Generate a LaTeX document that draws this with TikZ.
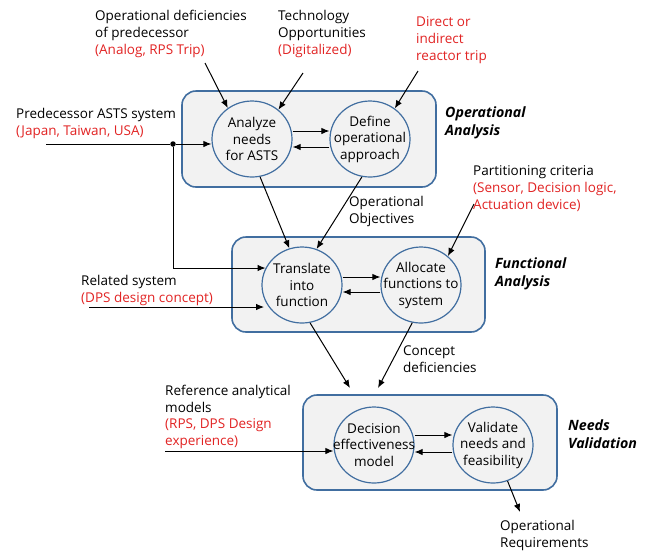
\documentclass[tikz,border=0pt]{standalone}
\usepackage{fontspec}
\setmainfont{Open Sans}
\usetikzlibrary{arrows.meta,shapes.geometric,calc}
\definecolor{frame}{RGB}{65,110,160}
\definecolor{panel}{RGB}{242,242,242}
\definecolor{note}{RGB}{225,35,35}
\begin{document}
\begin{tikzpicture}[x=1pt,y=-1pt,
  font=\fontsize{13.5}{17}\selectfont,
  panelbox/.style={draw=frame, fill=panel, line width=1.6pt, rounded corners=14pt, inner sep=0pt},
  ring/.style={ellipse, draw=frame, fill=panel, line width=1.2pt,
    minimum width=80pt, minimum height=76pt, inner sep=0pt},
  ctext/.style={align=center, inner sep=0pt, font=\fontsize{13.5}{16.5}\selectfont},
  lbl/.style={anchor=west, align=left, inner sep=0pt},
  stage/.style={lbl, font=\fontsize{14.2}{18}\selectfont\bfseries\itshape},
  arr/.style={-{Latex[length=8pt,width=6.5pt]}, line width=1pt},
  link/.style={line width=1pt}]
\useasboundingbox (0,0) rectangle (645,550);

% process stages
\node[panelbox, minimum width=254pt, minimum height=96pt] (opa) at (309,139) {};
\node[panelbox, minimum width=253pt, minimum height=95pt] (fna) at (358.5,284.5) {};
\node[panelbox, minimum width=254pt, minimum height=95pt] (nva) at (430,442.5) {};

\node[stage] (opalbl) at (445,123) {Operational\\Analysis};
\node[stage] (fnalbl) at (495,274) {Functional\\Analysis};
\node[stage] (nvalbl) at (568,434) {Needs\\Validation};

% activities
\node[ring] (c1) at (252,139) {};
\node[ring] (c2) at (370,139) {};
\node[ring] (c3) at (302,285) {};
\node[ring] (c4) at (421,285) {};
\node[ring] (c5) at (374,445) {};
\node[ring] (c6) at (493,445) {};

\node[ctext] (c1t) at (c1) {Analyze\\needs\\for ASTS};
\node[ctext] (c2t) at (c2) {Define\\operational\\approach};
\node[ctext] (c3t) at (c3) {Translate\\into\\function};
\node[ctext] (c4t) at (c4) {Allocate\\functions to\\system};
\node[ctext] (c5t) at (c5) {Decision\\effectiveness\\model};
\node[ctext] (c6t) at (c6) {Validate\\needs and\\feasibility};

% inputs
\node[lbl] (defic) at (95,33.5) {Operational deficiencies\\of predecessor\\\textcolor{note}{(Analog, RPS Trip)}};
\node[lbl] (techno) at (278,33.5) {Technology\\Opportunities\\\textcolor{note}{(Digitalized)}};
\node[lbl, text=note] (trip) at (416,40.5) {Direct or\\indirect\\reactor trip};
\node[lbl] (pred) at (16,123) {Predecessor ASTS system\\\textcolor{note}{(Japan, Taiwan, USA)}};
\node[lbl] (part) at (473,189) {Partitioning criteria\\\textcolor{note}{(Sensor, Decision logic,}\\\textcolor{note}{Actuation device)}};
\node[lbl] (rel) at (81,290.5) {Related system\\\textcolor{note}{(DPS design concept)}};
\node[lbl, font=\fontsize{13.5}{16.7}\selectfont] (refm) at (165,417) {Reference analytical\\models\\\textcolor{note}{(RPS, DPS Design}\\\textcolor{note}{experience)}};

% outputs
\node[lbl] (objs) at (349,211) {Operational\\Objectives};
\node[lbl] (cdef) at (403,359) {Concept\\deficiencies};
\node[lbl] (oreq) at (500,535) {Operational\\Requirements};

% free ends of connectors
\coordinate (s1) at (205,63);
\coordinate (s2) at (303,73);
\coordinate (s3) at (418,71);
\coordinate (s4) at (46,144);
\coordinate (s5) at (474,204);
\coordinate (s6) at (89,307);
\coordinate (s7) at (165,451);
\coordinate (t1) at (350,388);
\coordinate (t2) at (378,388);
\coordinate (t3) at (520,512);
\node[circle, fill=black, inner sep=0pt, minimum size=5.5pt] (jn) at (173,144) {};

% connectors into the operational analysis
\draw[arr] (s1) -- (c1.128);
\draw[arr] (s2) -- (c1.48);
\draw[arr] (s3) -- (c2.51);
\draw[link] (s4) -- (jn);
\draw[arr] (jn) -- (jn -| c1.west);
\draw[arr] ($(c1.east)+(0,-8)$) -- ($(c2.west)+(0,-8)$);
\draw[arr] ($(c2.west)+(0,8)$) -- ($(c1.east)+(0,8)$);

% connectors into the functional analysis
\draw[arr] (jn) |- (c3.155);
\draw[arr] (c1.-78) -- (c3.109);
\draw[arr] (c2.-102) -- (c3.68);
\draw[arr] (s5) -- (c4.47);
\draw[arr] (s6) -- (s6 -| c3.200);
\draw[arr] ($(c3.east)+(0,-8)$) -- ($(c4.west)+(0,-8)$);
\draw[arr] ($(c4.west)+(0,7)$) -- ($(c3.east)+(0,7)$);

% connectors into the needs validation
\draw[arr] (c3.-78) -- (t1);
\draw[arr] (c4.-103) -- (t2);
\draw[arr] (s7) -- (s7 -| c5.west);
\draw[arr] ($(c5.east)+(0,-10)$) -- ($(c6.west)+(0,-10)$);
\draw[arr] ($(c6.west)+(0,7)$) -- ($(c5.east)+(0,7)$);
\draw[arr] (c6.-68) -- (t3);
\end{tikzpicture}
\end{document}
